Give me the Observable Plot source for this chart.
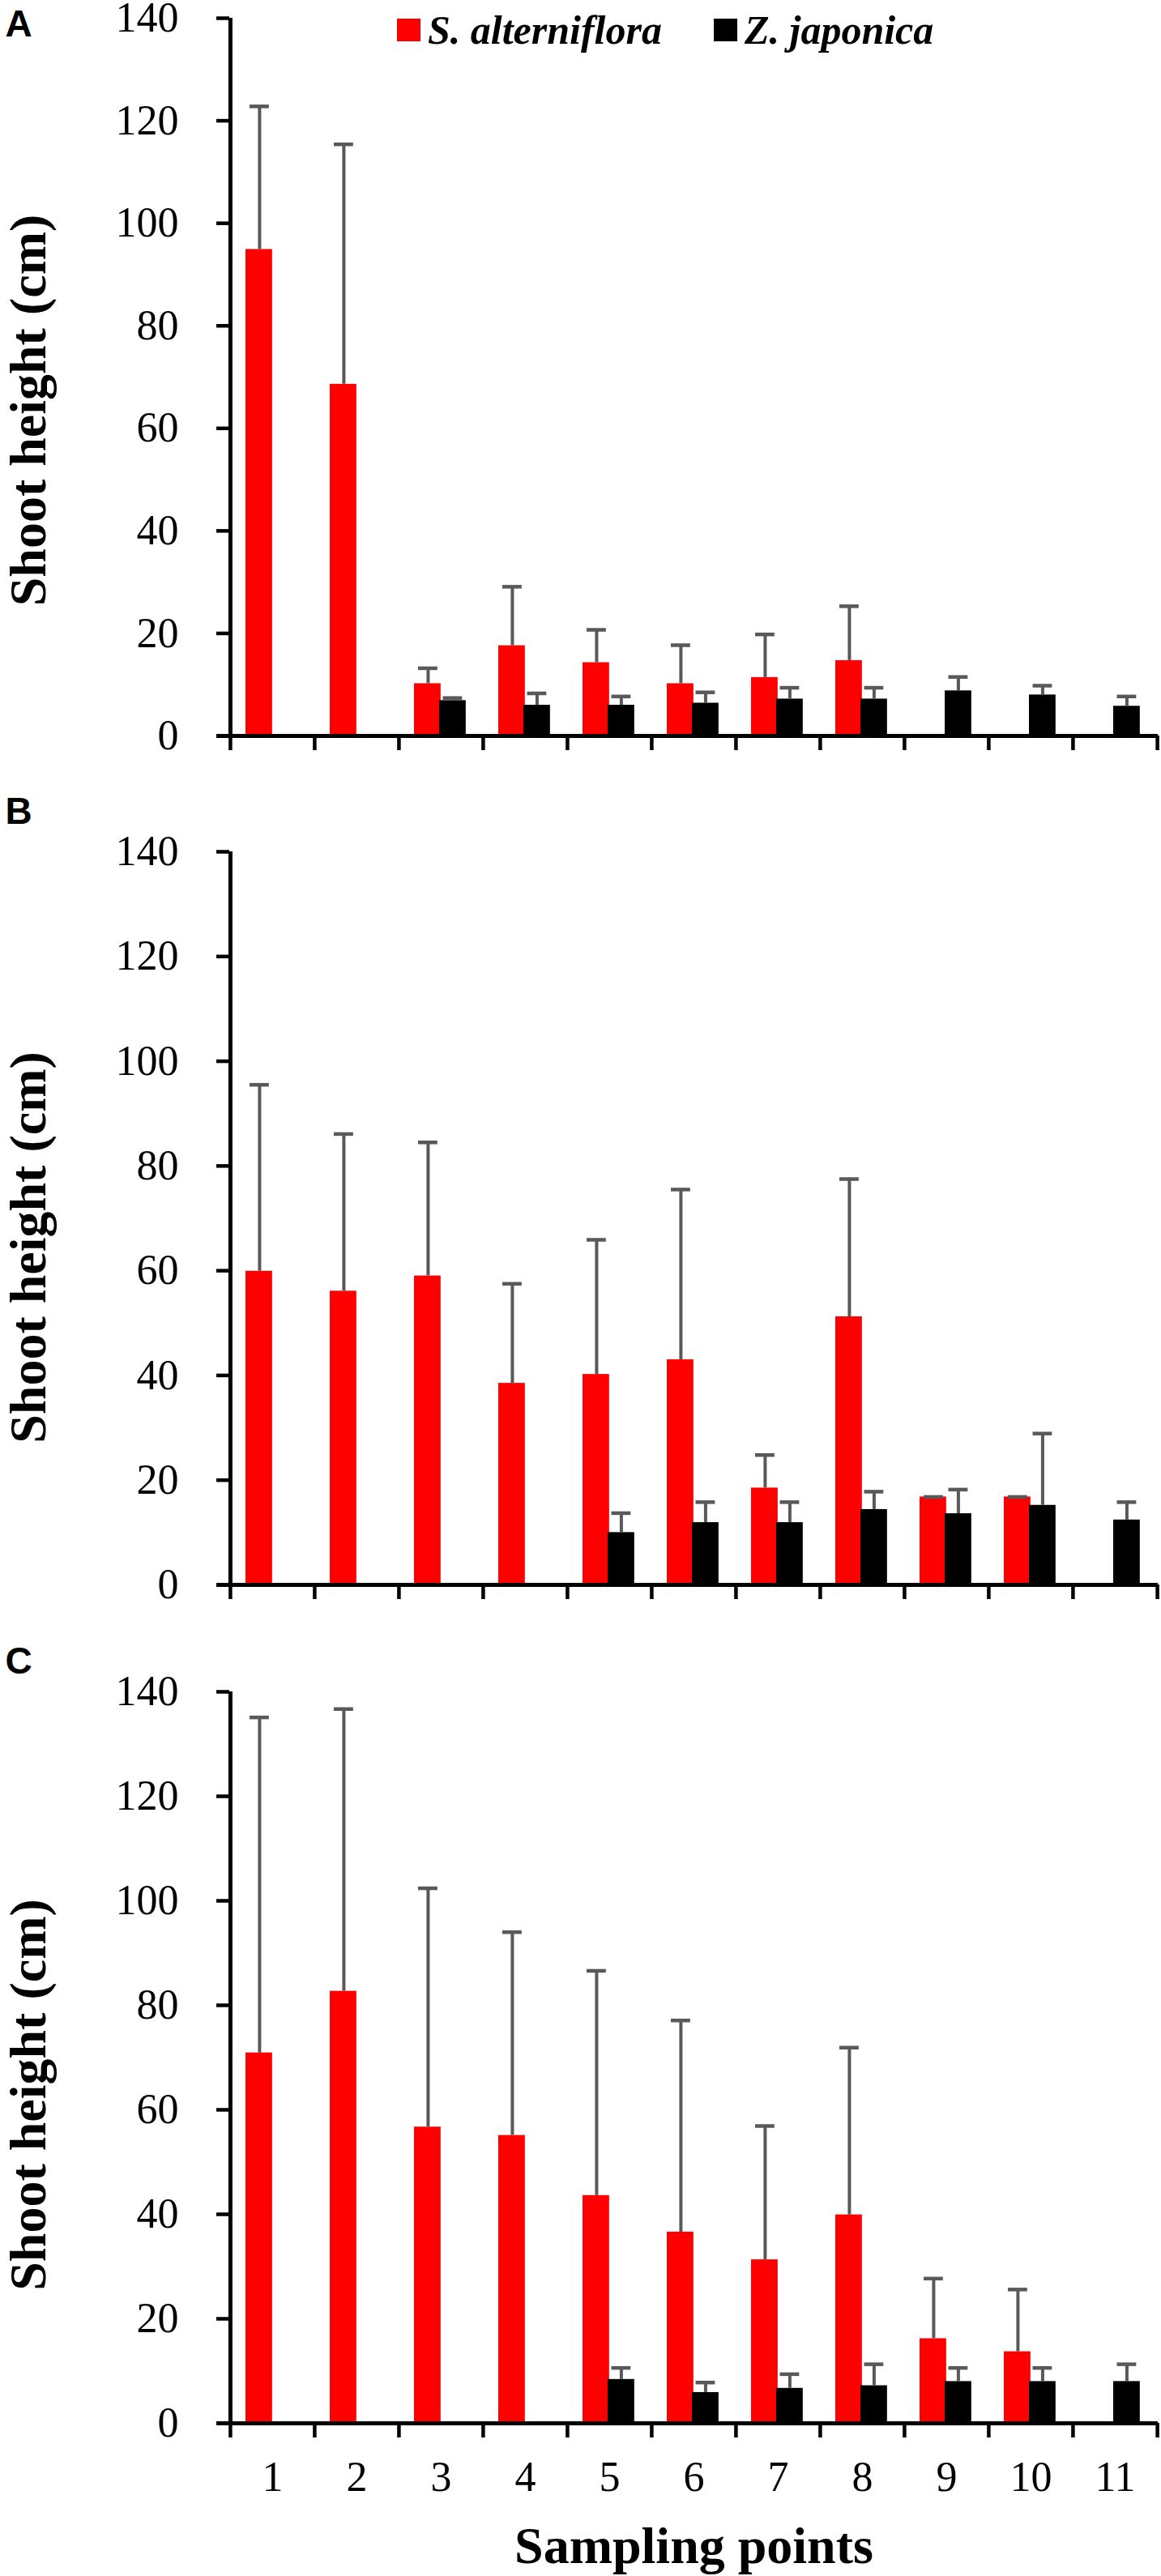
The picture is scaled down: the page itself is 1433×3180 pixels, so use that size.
<!DOCTYPE html>
<html>
<head>
<meta charset="utf-8">
<script src="https://cdn.jsdelivr.net/npm/d3@7"></script>
<script src="https://cdn.jsdelivr.net/npm/@observablehq/plot@0.6"></script>
<style>
html, body { margin: 0; padding: 0; background: #fff; }
#wrap { position: relative; width: 1433px; height: 3180px; overflow: hidden; }
#wrap svg { display: block; }
.legend { position: absolute; top: 10px; left: 490px; display: flex; align-items: center;
  font-family: 'Liberation Serif', 'Times New Roman', serif; font-weight: bold; font-style: italic;
  font-size: 50px; line-height: 54px; color: #000; white-space: nowrap; }
.legend .item { display: flex; align-items: center; }
.legend .item + .item { margin-left: 64px; }
.legend .sw { display: inline-block; width: 29px; height: 28px; margin-right: 9px; }
</style>
</head>
<body>
<div id="wrap"></div>
<script>
// ---- data ----
const categories = ["1", "2", "3", "4", "5", "6", "7", "8", "9", "10", "11"];
const yTicks = [0, 20, 40, 60, 80, 100, 120, 140];
const seriesNames = ["S. alterniflora", "Z. japonica"];
const panelLabels = ["A", "B", "C"];
const yTitle = "Shoot height (cm)";
const xTitle = "Sampling points";

// Panel A
const redMeanA = [94.9, 68.6, 10.2, 17.6, 14.3, 10.2, 11.4, 14.7, null, null, null];
const redSdA   = [27.9, 46.8, 3.0, 11.5, 6.4, 7.5, 8.4, 10.6, null, null, null];
const blackMeanA = [null, null, 6.9, 6.0, 6.0, 6.4, 7.2, 7.2, 8.8, 8.0, 5.8];
const blackSdA   = [null, null, 0.5, 2.3, 1.7, 2.1, 2.2, 2.2, 2.7, 1.8, 1.9];

// Panel B
const redMeanB = [59.9, 56.1, 59.0, 38.5, 40.2, 43.0, 18.5, 51.2, 16.8, 16.8, null];
const redSdB   = [35.6, 30.0, 25.5, 19.0, 25.7, 32.5, 6.3, 26.3, 0, 0, null];
const blackMeanB = [null, null, null, null, 10.0, 11.9, 11.9, 14.4, 13.6, 15.2, 12.4];
const blackSdB   = [null, null, null, null, 3.7, 3.9, 3.9, 3.4, 4.6, 13.7, 3.4];

// Panel C
const redMeanC = [70.9, 82.7, 56.7, 55.1, 43.6, 36.6, 31.3, 39.9, 16.2, 13.7, null];
const redSdC   = [64.2, 54.0, 45.7, 38.9, 43.0, 40.5, 25.6, 32.0, 11.5, 11.9, null];
const blackMeanC = [null, null, null, null, 8.4, 5.9, 6.7, 7.2, 8.0, 8.0, 8.0];
const blackSdC   = [null, null, null, null, 2.2, 1.9, 2.7, 4.1, 2.6, 2.6, 3.3];

// ---- styles ----
const colors = ["#ff0000", "#000000"];
const errorColor = "#595959";
const W = 1433, ML = 283, MR = 4;
const bw = (W - ML - MR) / categories.length;
const serif = "'Liberation Serif', 'Times New Roman', serif";

function panel(o) {
  const rows = categories.map((c, i) => ({
    c,
    red: o.red[i], redTop: o.red[i] == null ? null : o.red[i] + o.redSd[i],
    black: o.black[i], blackTop: o.black[i] == null ? null : o.black[i] + o.blackSd[i]
  }));
  const redRows = rows.filter(d => d.red != null);
  const blackRows = rows.filter(d => d.black != null);
  const first = [categories[0]], last = [categories[categories.length - 1]];
  const marks = [
    // bars & error bars
    Plot.barY(redRows, {x: "c", y1: 0, y2: "red", fill: colors[0], insetLeft: 19, insetRight: bw - 52}),
    Plot.ruleX(redRows, {x: "c", y1: "red", y2: "redTop", stroke: errorColor, strokeWidth: 4, dx: 36 - bw / 2}),
    Plot.tickY(redRows, {x: "c", y: "redTop", stroke: errorColor, strokeWidth: 4.5, insetLeft: 24, insetRight: bw - 48}),
    Plot.barY(blackRows, {x: "c", y1: 0, y2: "black", fill: colors[1], insetLeft: 50, insetRight: bw - 83}),
    Plot.ruleX(blackRows, {x: "c", y1: "black", y2: "blackTop", stroke: errorColor, strokeWidth: 4, dx: 66.5 - bw / 2}),
    Plot.tickY(blackRows, {x: "c", y: "blackTop", stroke: errorColor, strokeWidth: 4.5, insetLeft: 54.5, insetRight: bw - 78.5}),
    // axes
    Plot.axisY({ticks: yTicks, tickSize: 16, tickPadding: 47, fontSize: 52, strokeWidth: 4.5, label: null}),
    Plot.ruleX(first, {x: d => d, y1: 0, y2: yTicks[yTicks.length - 1], dx: -bw / 2, strokeWidth: 5, insetTop: -2}),
    Plot.ruleY([0], {strokeWidth: 5, insetLeft: -16}),
    Plot.ruleX(categories, {x: d => d, y1: 0, y2: 0, dx: -bw / 2, strokeWidth: 4.5, insetBottom: -18}),
    Plot.ruleX(last, {x: d => d, y1: 0, y2: 0, dx: bw / 2, strokeWidth: 4.5, insetBottom: -18}),
    // texts
    Plot.text([yTitle], {text: d => d, frameAnchor: "left", textAnchor: "middle", lineAnchor: "middle",
      rotate: -90, dx: -248, dy: o.titleDy,
      fontSize: 64, fontWeight: "bold", fontFamily: serif, fill: "#000"}),
    Plot.text([o.label], {text: d => d, frameAnchor: "top-left", textAnchor: "start", lineAnchor: "middle",
      dx: -277, dy: o.labelDy,
      fontSize: 46, fontWeight: "bold", fontFamily: "'Liberation Sans', Arial, sans-serif", fill: "#000"})
  ];
  if (o.showX) {
    marks.push(Plot.axisX({tickSize: 0, tickPadding: 47, fontSize: 52, label: null}));
    marks.push(Plot.text([xTitle], {text: d => d, frameAnchor: "bottom", textAnchor: "middle", lineAnchor: "middle",
      dy: 152, fontSize: 64, fontWeight: "bold", fontFamily: serif, fill: "#000"}));
  }
  return Plot.plot({
    width: W, height: o.height,
    marginLeft: ML, marginRight: MR, marginTop: o.marginTop, marginBottom: o.marginBottom,
    x: {type: "band", domain: categories, padding: 0, axis: o.showX ? undefined : null, label: null},
    y: {domain: [0, 140], label: null},
    style: {fontFamily: serif, fontSize: "52px", color: "#000", background: "#fff", overflow: "visible"},
    marks
  });
}

const wrap = document.getElementById("wrap");
wrap.append(panel({label: panelLabels[0], red: redMeanA, redSd: redSdA, black: blackMeanA, blackSd: blackSdA,
  height: 980, marginTop: 22, marginBottom: 72, titleDy: 41, labelDy: 8, showX: false}));
wrap.append(panel({label: panelLabels[1], red: redMeanB, redSd: redSdB, black: blackMeanB, blackSd: blackSdB,
  height: 1040, marginTop: 71, marginBottom: 64, titleDy: 36, labelDy: -49, showX: false}));
wrap.append(panel({label: panelLabels[2], red: redMeanC, redSd: redSdC, black: blackMeanC, blackSd: blackSdC,
  height: 1160, marginTop: 68, marginBottom: 189, titleDy: 46, labelDy: -37, showX: true}));

// legend (HTML overlay at top of panel A)
const legend = document.createElement("div");
legend.className = "legend";
seriesNames.forEach((name, i) => {
  const item = document.createElement("div");
  item.className = "item";
  const sw = document.createElement("span");
  sw.className = "sw";
  sw.style.background = colors[i];
  const t = document.createElement("span");
  t.textContent = name;
  item.append(sw, t);
  legend.append(item);
});
wrap.append(legend);
</script>
</body>
</html>
